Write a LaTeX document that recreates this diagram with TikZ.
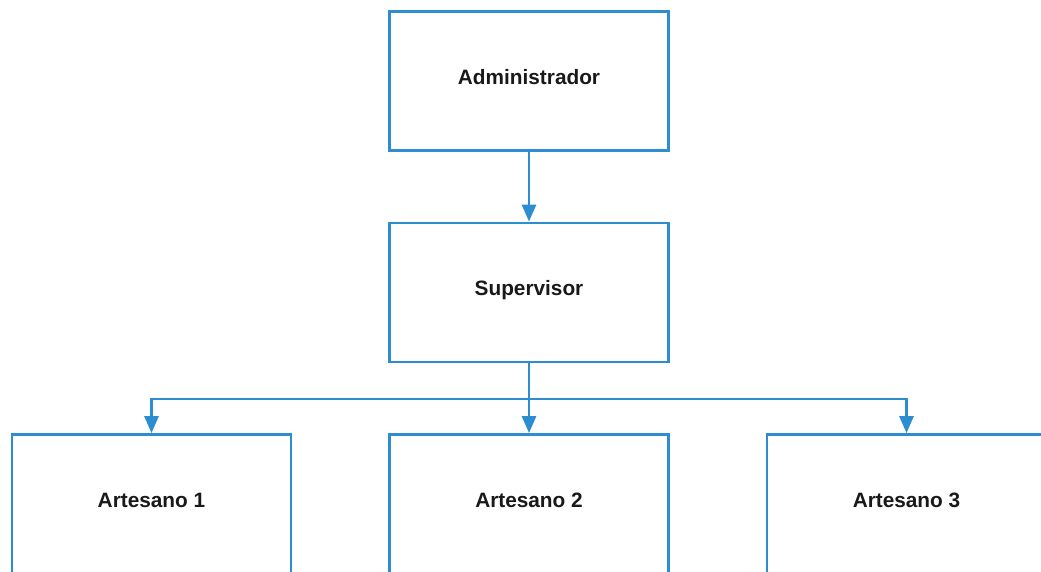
\documentclass[tikz,border=0pt]{standalone}
\usepackage{fontspec}
\setmainfont{Liberation Sans}
\usetikzlibrary{arrows.meta}
\definecolor{lineblue}{RGB}{44,142,208}
\tikzset{
  box/.style={draw=lineblue, line width=2.8pt, rectangle, minimum width=279pt, minimum height=139pt, inner sep=0pt},
  lbl/.style={font=\fontsize{20.8}{24}\selectfont\bfseries, text=black!90},
  conn/.style={draw=lineblue, line width=2.8pt, -{Triangle[length=17pt,width=14pt]}}
}
\begin{document}
\begin{tikzpicture}[x=1pt,y=-1pt]
\useasboundingbox (0,0) rectangle (1041,572);
\clip (0,0) rectangle (1041,572);
\node[box] (adm) at (529,81) {};
\node[box] (sup) at (529,292.5) {};
\node[box] (a1) at (151.5,504) {};
\node[box] (a2) at (529,504) {};
\node[box] (a3) at (906.5,504) {};
\node[lbl] (t0) at (529,77) {Administrador};
\node[lbl] (ts) at (529,290) {Supervisor};
\node[lbl] (t1) at (151.5,500) {Artesano 1};
\node[lbl] (t2) at (529,500) {Artesano 2};
\node[lbl] (t3) at (906.5,500) {Artesano 3};
\coordinate (bus) at (529,399);
\draw[conn] (adm.south) -- (sup.north);
\draw[conn] (sup.south) -- (a2.north);
\draw[conn] (sup.south) -- (bus) -| (a1.north);
\draw[conn] (sup.south) -- (bus) -| (a3.north);
\end{tikzpicture}
\end{document}
